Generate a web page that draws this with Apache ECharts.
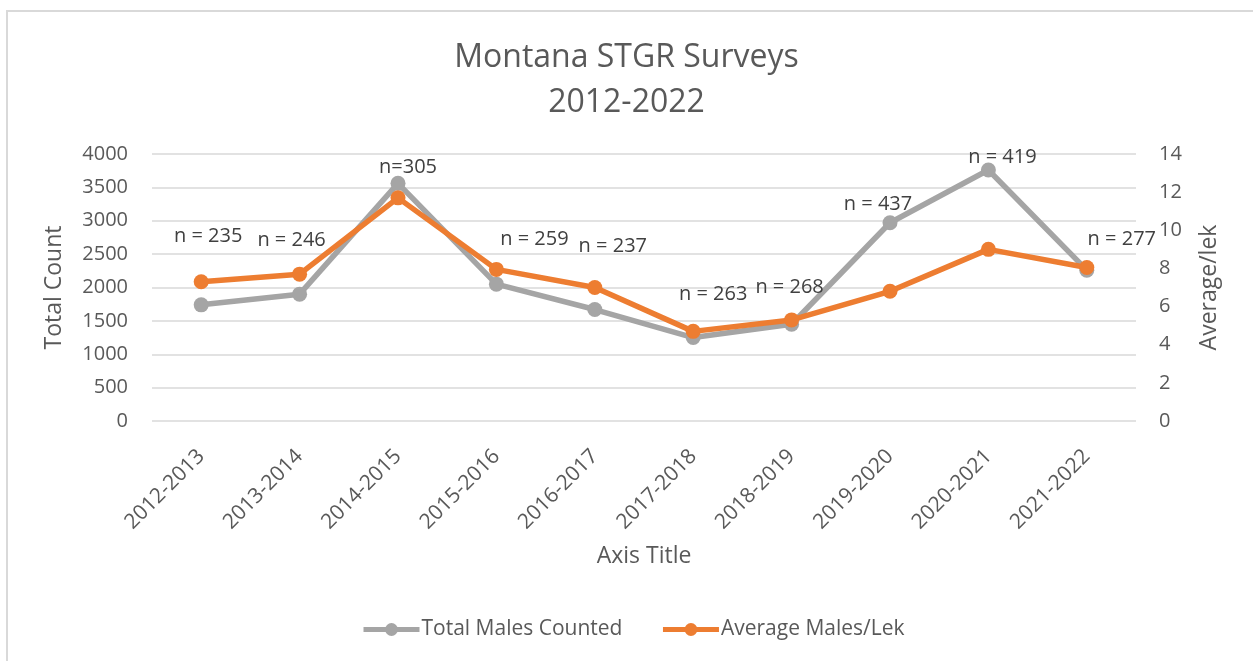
<!DOCTYPE html>
<html>
<head>
<meta charset="utf-8">
<title>Montana STGR Surveys</title>
<script src="https://cdn.jsdelivr.net/npm/echarts@6/dist/echarts.min.js"></script>
<style>
  html, body { margin: 0; padding: 0; background: #fff; }
  #chart { width: 1253px; height: 661px; }
</style>
</head>
<body>
<div id="chart"></div>
<script>
const seasons = ['2012-2013', '2013-2014', '2014-2015', '2015-2016', '2016-2017',
  '2017-2018', '2018-2019', '2019-2020', '2020-2021', '2021-2022']
const totalMales = [1740, 1900, 3560, 2050, 1670, 1250, 1450, 2970, 3760, 2260]
const avgPerLek = [7.3, 7.7, 11.7, 7.95, 7.0, 4.7, 5.3, 6.8, 9.0, 8.05]
const sampleLabels = ['n = 235', 'n = 246', 'n=305', 'n = 259', 'n = 237',
  'n = 263', 'n = 268', 'n = 437', 'n = 419', 'n = 277']

// where each n label sits relative to its grey point (hand placed in the original)
const labelShift = [[7, -69], [-8, -54], [10, -16], [38, -45], [18, -63],
  [20, -43], [-2, -37], [-12, -18], [14, -13], [35, -31]]

const textColor = '#595959'
const font = 'Open Sans'

const chart = echarts.init(document.getElementById('chart'))

const option = {
  backgroundColor: '#fff',
  textStyle: { fontFamily: font },
  graphic: [{
    type: 'rect',
    shape: { x: 7, y: 11, width: 1300, height: 700 },
    style: { fill: 'none', stroke: '#d9d9d9', lineWidth: 2 },
    silent: true
  }],
  title: {
    text: 'Montana STGR Surveys\n2012-2022',
    left: 'center',
    top: 30,
    textStyle: {
      fontFamily: font,
      fontSize: 32,
      fontWeight: 'normal',
      color: textColor,
      lineHeight: 45
    }
  },
  legend: {
    left: 356,
    top: 614,
    itemWidth: 56,
    itemHeight: 16,
    itemGap: 38,
    lineStyle: { width: 5 },
    textStyle: { fontFamily: font, fontSize: 21, color: textColor, padding: [0, 0, 0, -3] },
    data: ['Total Males Counted', 'Average Males/Lek']
  },
  grid: { left: 152, right: 117, top: 154, bottom: 240 },
  xAxis: {
    type: 'category',
    data: seasons,
    boundaryGap: true,
    name: 'Axis Title',
    nameLocation: 'middle',
    nameGap: 124,
    nameTextStyle: { fontSize: 23, color: textColor },
    axisLine: { show: false },
    axisTick: { show: false },
    axisLabel: { rotate: 45, margin: 32, fontSize: 21, color: textColor, interval: 0 }
  },
  yAxis: [{
    type: 'value',
    min: 0,
    max: 4000,
    interval: 500,
    name: 'Total Count',
    nameLocation: 'middle',
    nameRotate: 90,
    nameGap: 86,
    nameTextStyle: { fontSize: 23, color: textColor },
    axisLine: { show: false },
    axisTick: { show: false },
    axisLabel: { margin: 24, fontSize: 20, color: textColor, formatter: v => String(v) },
    splitLine: { lineStyle: { color: '#d9d9d9', width: 1.5 } }
  }, {
    type: 'value',
    min: 0,
    max: 14,
    interval: 2,
    name: 'Average/lek',
    nameLocation: 'middle',
    nameRotate: 90,
    nameGap: 62,
    nameTextStyle: { fontSize: 23, color: textColor },
    axisLine: { show: false },
    axisTick: { show: false },
    axisLabel: { margin: 23, fontSize: 20, color: textColor },
    splitLine: { show: false }
  }],
  series: [{
    name: 'Total Males Counted',
    type: 'line',
    yAxisIndex: 0,
    symbol: 'circle',
    symbolSize: 15,
    color: '#A5A5A5',
    lineStyle: { width: 5.5, color: '#A5A5A5' },
    itemStyle: { color: '#A5A5A5' },
    data: totalMales.map((v, i) => ({
      value: v,
      label: {
        show: true,
        position: 'inside',
        offset: labelShift[i],
        formatter: sampleLabels[i],
        fontFamily: font,
        fontSize: 20,
        color: '#404040'
      }
    })),
    z: 2
  }, {
    name: 'Average Males/Lek',
    type: 'line',
    yAxisIndex: 1,
    symbol: 'circle',
    symbolSize: 15,
    color: '#ED7D31',
    lineStyle: { width: 5.5, color: '#ED7D31' },
    itemStyle: { color: '#ED7D31' },
    data: avgPerLek,
    z: 3
  }]
}

chart.setOption(option)
window.addEventListener('resize', () => chart.resize())
</script>
</body>
</html>
